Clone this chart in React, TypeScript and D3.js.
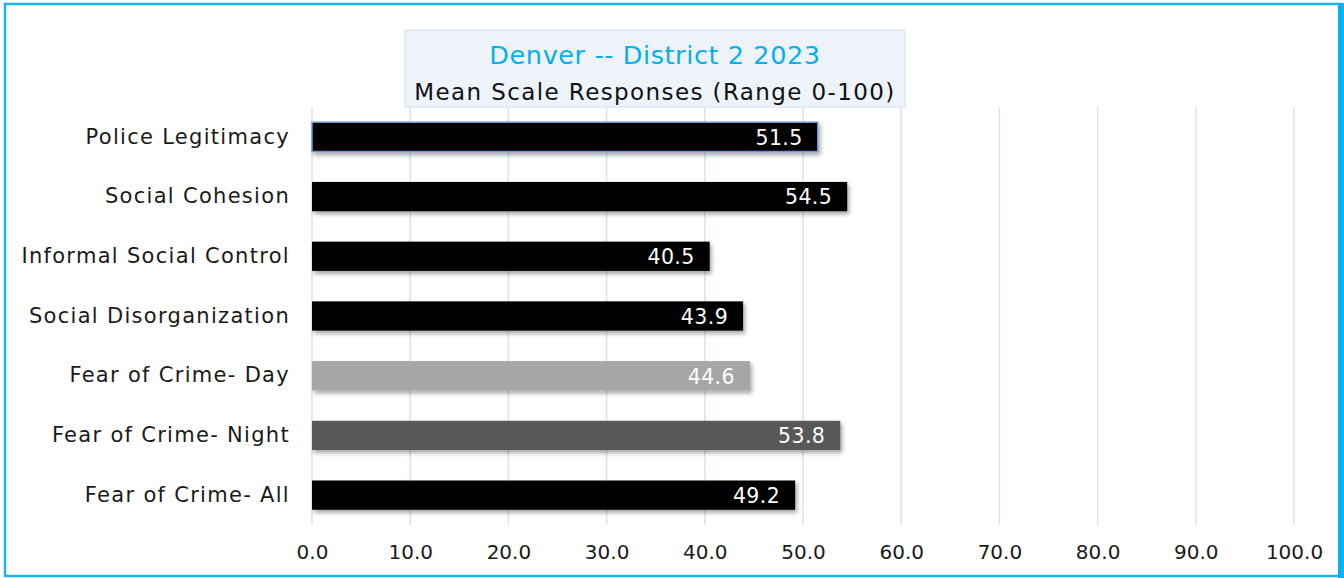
import React, { useEffect, useRef } from "react";
import * as d3 from "d3";

const categories = [
  "Police Legitimacy",
  "Social Cohesion",
  "Informal Social Control",
  "Social Disorganization",
  "Fear of Crime- Day",
  "Fear of Crime- Night",
  "Fear of Crime- All",
];
const values = [51.5, 54.5, 40.5, 43.9, 44.6, 53.8, 49.2];
const barColors = ["#000000", "#000000", "#000000", "#000000", "#a6a6a6", "#595959", "#000000"];
const ticks = [0, 10, 20, 30, 40, 50, 60, 70, 80, 90, 100];
const title = "Denver -- District 2 2023";
const subtitle = "Mean Scale Responses (Range 0-100)";

const FONT = "'DejaVu Sans', 'Noto Sans', sans-serif";

export default function App() {
  const ref = useRef<SVGSVGElement>(null);
  const width = 1344;
  const height = 578;
  const margin = { top: 107, left: 312, right: 50, bottom: 53 };

  useEffect(() => {
    const svg = d3.select(ref.current);
    svg.selectAll("*").remove();

    const defs = svg.append("defs");
    const f = defs.append("filter").attr("id", "shadow").attr("x", "-5%").attr("y", "-30%").attr("width", "110%").attr("height", "170%");
    f.append("feDropShadow")
      .attr("dx", 2).attr("dy", 3).attr("stdDeviation", 2)
      .attr("flood-color", "#000").attr("flood-opacity", 0.35);

    // outer frame
    svg.append("rect").attr("x", 0).attr("y", 0).attr("width", width).attr("height", height).attr("fill", "#fff");
    svg.append("rect")
      .attr("x", 5).attr("y", 4).attr("width", width - 8.5).attr("height", height - 6)
      .attr("fill", "none").attr("stroke", "#1ab4ec").attr("stroke-width", 2.5);
    svg.append("rect")
      .attr("x", 1338).attr("y", 3).attr("width", 6).attr("height", height - 3)
      .attr("fill", "#00b4f0");

    const x = d3.scaleLinear().domain([0, 100]).range([margin.left, 1294]);
    const y = d3.scaleBand()
      .domain(categories)
      .range([margin.top, height - margin.bottom])
      .paddingInner(0.51)
      .paddingOuter(0.255);

    const g = svg.append("g");

    // gridlines
    g.append("g")
      .selectAll("line")
      .data(ticks)
      .join("line")
      .attr("x1", d => x(d)).attr("x2", d => x(d))
      .attr("y1", margin.top).attr("y2", height - margin.bottom)
      .attr("stroke", "#d9e2f1").attr("stroke-width", 1.5);

    // title box
    svg.append("rect")
      .attr("x", 405).attr("y", 30).attr("width", 500).attr("height", 77)
      .attr("fill", "#eef3f9").attr("stroke", "#dfe7f2").attr("stroke-width", 1.5);
    svg.append("text")
      .attr("x", 655).attr("y", 64)
      .attr("text-anchor", "middle")
      .attr("font-family", FONT).attr("font-size", 25.5)
      .attr("letter-spacing", 0.6)
      .attr("fill", "#00b0f0")
      .text(title);
    svg.append("text")
      .attr("x", 655).attr("y", 100)
      .attr("text-anchor", "middle")
      .attr("font-family", FONT).attr("font-size", 23)
      .attr("letter-spacing", 1.4)
      .attr("fill", "#111")
      .text(subtitle);

    // bars
    g.append("g")
      .selectAll("rect")
      .data(categories)
      .join("rect")
      .attr("x", x(0))
      .attr("y", d => y(d)!)
      .attr("width", (d, i) => x(values[i]) - x(0))
      .attr("height", y.bandwidth())
      .attr("fill", (d, i) => barColors[i])
      .attr("stroke", (d, i) => (i === 0 ? "#6f96d6" : "none"))
      .attr("stroke-width", 1.5)
      .attr("filter", "url(#shadow)");

    // value labels
    g.append("g")
      .selectAll("text")
      .data(categories)
      .join("text")
      .attr("x", (d, i) => x(values[i]) - 15)
      .attr("y", d => y(d)! + y.bandwidth() / 2)
      .attr("dy", "0.38em")
      .attr("text-anchor", "end")
      .attr("font-family", FONT).attr("font-size", 20.5)
      .attr("letter-spacing", 0.4)
      .attr("fill", "#fff")
      .text((d, i) => values[i].toFixed(1));

    // category labels
    const yAxis = g.append("g")
      .attr("transform", `translate(${margin.left - 22},0)`)
      .call(d3.axisLeft(y).tickSize(0).tickPadding(0));
    yAxis.select(".domain").remove();
    yAxis.selectAll("text")
      .attr("font-family", FONT).attr("font-size", 21)
      .attr("letter-spacing", 1.3)
      .attr("fill", "#1a1a1a");

    // x tick labels
    const xAxis = g.append("g")
      .attr("transform", `translate(0,${height - margin.bottom})`)
      .call(d3.axisBottom(x).tickValues(ticks).tickSize(0).tickPadding(20).tickFormat(d3.format(".1f")));
    xAxis.select(".domain").remove();
    xAxis.selectAll("text")
      .attr("font-family", FONT).attr("font-size", 20)
      .attr("fill", "#1a1a1a");
  }, []);

  return (
    <div style={{ position: "absolute", left: 0, top: 0 }}>
      <svg ref={ref} width={width} height={height} style={{ display: "block" }} />
    </div>
  );
}
